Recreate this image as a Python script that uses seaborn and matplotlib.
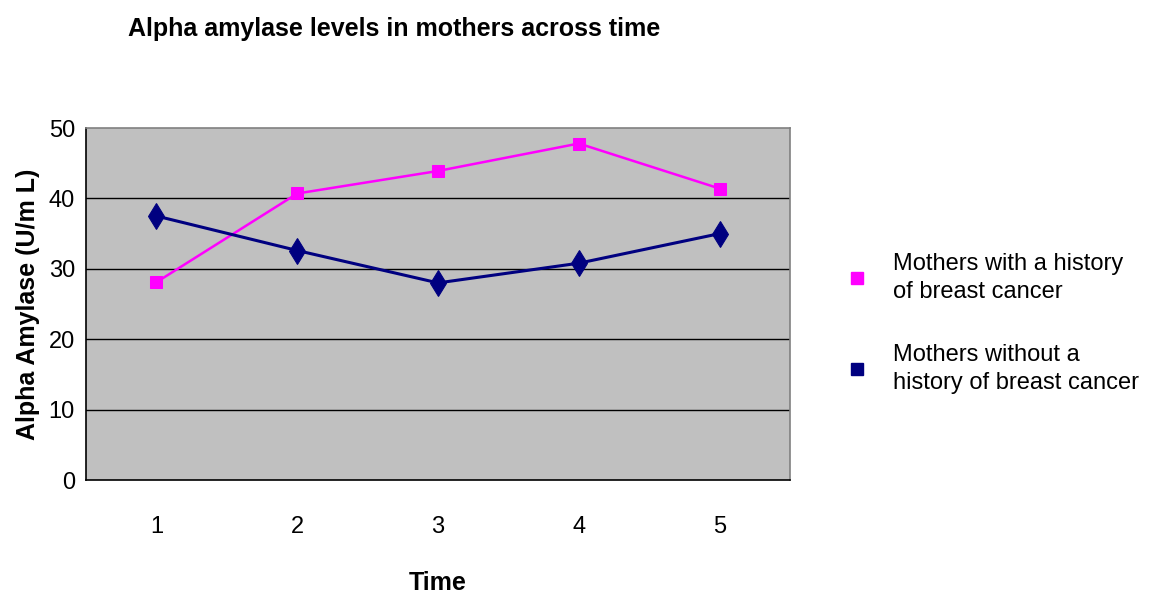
import pandas as pd
import matplotlib
matplotlib.use("Agg")
import matplotlib.pyplot as plt
import seaborn as sns
from matplotlib.lines import Line2D

# data
time_points = ["1", "2", "3", "4", "5"]
with_history = [28.1, 40.7, 43.9, 47.8, 41.4]
without_history = [37.5, 32.6, 28.0, 30.8, 35.0]
series_names = ["Mothers with a history\nof breast cancer",
                "Mothers without a\nhistory of breast cancer"]
y_ticks = [0, 10, 20, 30, 40, 50]

pink = "#FF00FF"
navy = "#000080"

df = pd.DataFrame({
    "time": time_points * 2,
    "pos": list(range(len(time_points))) * 2,
    "value": with_history + without_history,
    "group": [series_names[0]] * 5 + [series_names[1]] * 5,
})

sns.set_style("white")
plt.rcParams["font.family"] = ["Liberation Sans", "DejaVu Sans"]
plt.rcParams["text.color"] = "black"
plt.rcParams["axes.labelcolor"] = "black"
plt.rcParams["xtick.color"] = "black"
plt.rcParams["ytick.color"] = "black"

fig = plt.figure(figsize=(11.55, 5.96), dpi=100)
ax = fig.add_axes([0.0745, 0.1946, 0.6095, 0.5906])
ax.set_facecolor("#C0C0C0")

sns.lineplot(data=df[df["group"] == series_names[0]], x="pos", y="value",
             color=pink, marker="s", markersize=9, markeredgecolor=pink,
             linewidth=1.8, ax=ax, legend=False, zorder=3)
sns.lineplot(data=df[df["group"] == series_names[1]], x="pos", y="value",
             color=navy, marker="d", markersize=13, markeredgecolor=navy,
             linewidth=2.2, ax=ax, legend=False, zorder=3)

ax.set_xlim(-0.5, len(time_points) - 0.5)
ax.set_ylim(0, 50)
ax.set_yticks(y_ticks)
ax.set_yticklabels([str(t) for t in y_ticks], fontsize=17)
ax.set_xticks(range(len(time_points)))
ax.set_xticklabels(time_points, fontsize=17)
ax.set_xticks([i - 0.5 for i in range(len(time_points) + 1)], minor=True)
ax.tick_params(axis="x", which="major", length=0, pad=26)
ax.tick_params(axis="x", which="minor", length=7, width=1, color="black", direction="out")
ax.tick_params(axis="y", length=6, width=1, color="black", direction="out", pad=2)

for t in y_ticks[1:-1]:
    ax.axhline(t, color="black", linewidth=1, zorder=1)

for side in ["left", "bottom"]:
    ax.spines[side].set_color("black")
    ax.spines[side].set_linewidth(1.2)
for side in ["top", "right"]:
    ax.spines[side].set_color("#808080")
    ax.spines[side].set_linewidth(1.2)

ax.set_xlabel("Time", fontsize=18, fontweight="bold", labelpad=24)
ax.set_ylabel("Alpha Amylase (U/m L)", fontsize=18, fontweight="bold", labelpad=6)

fig.text(0.111, 0.952, "Alpha amylase levels in mothers across time",
         fontsize=18, fontweight="bold", va="center", ha="left")

handles = [Line2D([], [], linestyle="none", marker="s", markersize=9,
                  color=c, markeredgecolor=c) for c in [pink, navy]]
leg = fig.legend(handles, series_names, loc="center left", bbox_to_anchor=(0.7135, 0.457),
                 frameon=False, fontsize=17, handlelength=1.0, handletextpad=1.0,
                 labelspacing=1.75)
for t in leg.get_texts():
    t.set_linespacing(1.35)

fig.savefig("out.png", dpi=100)
